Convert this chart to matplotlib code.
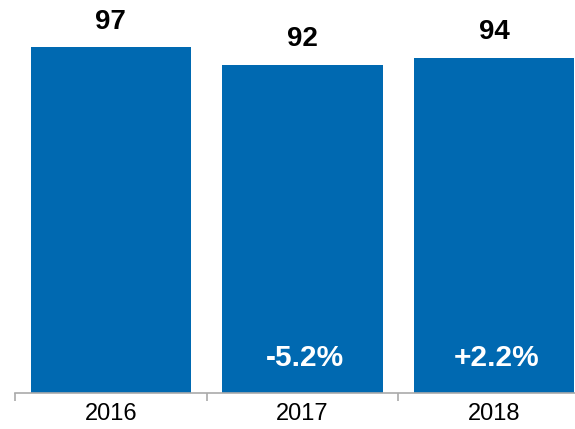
import matplotlib
matplotlib.use("Agg")
import matplotlib.pyplot as plt

years = ["2016", "2017", "2018"]
values = [97, 92, 94]
changes = ["", "-5.2%", "+2.2%"]

BLUE = "#0069B1"
W, H = 575, 429
plt.rcParams["font.family"] = ["Liberation Sans", "DejaVu Sans"]

fig = plt.figure(figsize=(W / 100, H / 100), dpi=100)
# axes runs slightly past the right edge so the last category is clipped
ax = fig.add_axes([15 / W, 36 / H, 575 / W, 393 / H])

x = range(len(years))
ax.bar(x, values, width=0.835, color=BLUE, zorder=2)
ax.set_xlim(-0.5, 2.5)
ax.set_ylim(0, 110.2)

for i, v in enumerate(values):
    ax.annotate(str(v), (i, v), xytext=(0, 9), textcoords="offset points",
                ha="center", va="bottom", fontsize=20, fontweight="bold",
                color="black")
for i, c in enumerate(changes):
    if c:
        ax.annotate(c, (i, 9.8), xytext=(2, 0), textcoords="offset points",
                    ha="center", va="center", fontsize=21.5,
                    fontweight="bold", color="white", zorder=3)

for s in ["top", "right", "left"]:
    ax.spines[s].set_visible(False)
ax.spines["bottom"].set_color("#aaaaaa")
ax.spines["bottom"].set_linewidth(1.2)
ax.set_yticks([])
ax.set_xticks([-0.5, 0.5, 1.5], minor=False)
ax.set_xticklabels([])
ax.tick_params(axis="x", length=6, width=1.2, color="#aaaaaa")
ax.set_xticks(list(x), minor=True)
ax.set_xticklabels(years, minor=True)
ax.tick_params(axis="x", which="minor", length=0, labelsize=17, pad=7,
               labelcolor="black")

fig.savefig("out.png", dpi=100)
